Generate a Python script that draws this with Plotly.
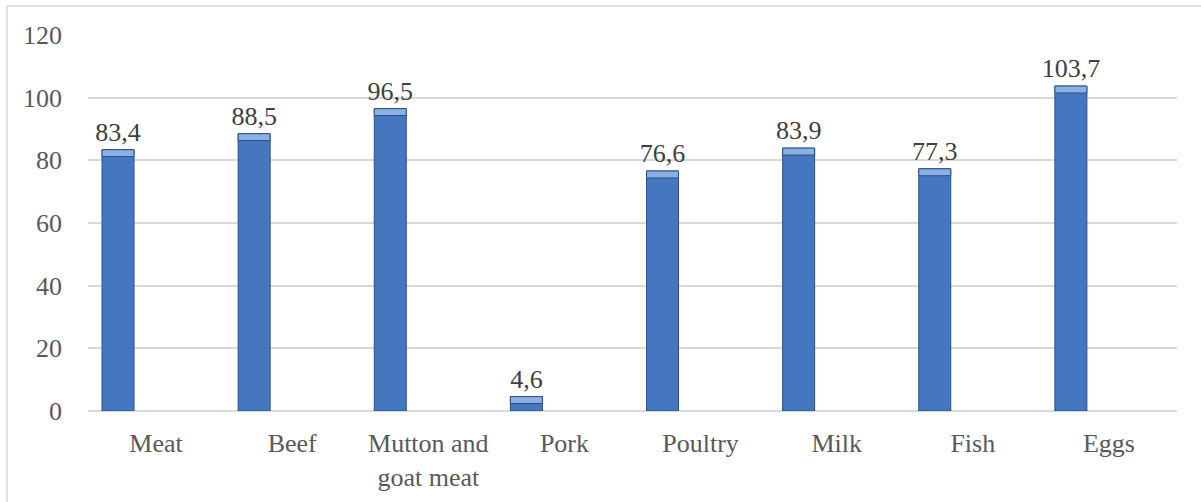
import plotly.graph_objects as go

categories = ["Meat", "Beef", "Mutton and<br>goat meat", "Pork", "Poultry", "Milk", "Fish", "Eggs"]
values = [83.4, 88.5, 96.5, 4.6, 76.6, 83.9, 77.3, 103.7]
y_ticks = [0, 20, 40, 60, 80, 100, 120]

FONT = "Liberation Serif, Times New Roman, serif"
FS = 26
BAR_W = 0.235
BAR_OFF = -0.397
BEVEL = 2.2

fig = go.Figure()
fig.add_trace(go.Bar(
    x=categories, y=values,
    width=BAR_W, offset=BAR_OFF,
    marker=dict(color="#4577C0", line=dict(color="#2A4F8A", width=1)),
    texttemplate="%{y:.1f}", textposition="outside", cliponaxis=False,
    constraintext="none",
    textfont=dict(family=FONT, size=FS, color="#404040"),
    hoverinfo="skip",
))
fig.add_trace(go.Bar(
    x=categories, y=[BEVEL] * len(values), base=[v - BEVEL for v in values],
    width=BAR_W, offset=BAR_OFF,
    marker=dict(color="#8DB0E2", line=dict(color="#2A4F8A", width=1)),
    hoverinfo="skip",
))

fig.update_layout(
    width=1201, height=502,
    margin=dict(l=88, r=24, t=35, b=91),
    paper_bgcolor="white", plot_bgcolor="white",
    barmode="overlay", showlegend=False,
    separators=",.",
    font=dict(family=FONT, size=FS, color="#595959"),
    xaxis=dict(showgrid=False, showline=False, ticks="", automargin=False,
               tickfont=dict(family=FONT, size=FS, color="#595959"),
               ticklabelstandoff=14),
    yaxis=dict(range=[0, 120], tickvals=y_ticks, showgrid=True, gridcolor="#D9D9D9", gridwidth=1.5,
               zeroline=True, zerolinecolor="#D9D9D9", zerolinewidth=1.5, showline=False,
               automargin=False,
               ticks="", ticklen=0, tickfont=dict(family=FONT, size=FS, color="#595959"),
               ticklabelstandoff=25),
    shapes=[dict(type="rect", xref="paper", yref="paper",
                 x0=(7 - 88) / 1089, x1=(1210 - 88) / 1089,
                 y0=(411 - 520) / 376, y1=(411 - 6) / 376,
                 line=dict(color="#D9D9D9", width=1.5), fillcolor="rgba(0,0,0,0)", layer="below")],
)

fig.write_html("out.html")
